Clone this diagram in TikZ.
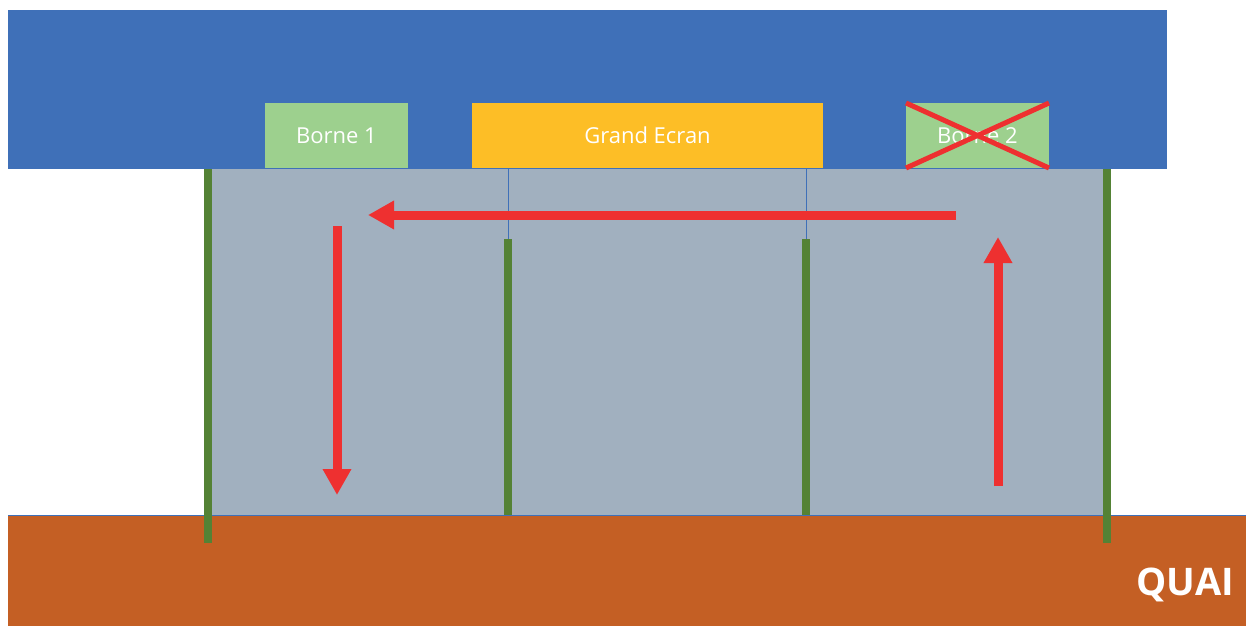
\documentclass[tikz,border=0pt]{standalone}
\usepackage{fontspec}
\setmainfont{Open Sans}
\usetikzlibrary{arrows.meta}
\definecolor{topblue}{HTML}{3F70B8}
\definecolor{hallgray}{HTML}{A1B0BF}
\definecolor{quaiorange}{HTML}{C45F24}
\definecolor{postgreen}{HTML}{548235}
\definecolor{bornegreen}{HTML}{9DD08E}
\definecolor{screenyellow}{HTML}{FDBE26}
\definecolor{arrowred}{HTML}{EE3030}
\begin{document}
\begin{tikzpicture}[x=1pt,y=-1pt,
  panel/.style={draw=none,inner sep=0pt,outer sep=0pt,text=white,font=\fontsize{22}{24}\selectfont},
  post/.style={postgreen,line width=8pt},
  redarrow/.style={arrowred,line width=9pt,-{Triangle[length=26pt,width=27pt]}},
  thinline/.style={topblue,line width=1pt}]
\useasboundingbox (0,0) rectangle (1247,626);
\fill[white] (0,0) rectangle (1247,626);
% areas
\fill[topblue] (8,10) rectangle (1167,169);
\fill[hallgray] (208,169) rectangle (1107,515);
\fill[quaiorange] (8,515) rectangle (1246,626);
\draw[topblue,line width=1pt] (8,515) -- (1246,515);
% panels
\node[panel,fill=bornegreen,minimum width=143pt,minimum height=65pt] (b1) at (336.5,135.5) {Borne 1};
\node[panel,fill=screenyellow,minimum width=351pt,minimum height=65pt] (ge) at (647.5,135.5) {Grand Ecran};
\node[panel,fill=bornegreen,minimum width=143pt,minimum height=65pt] (b2) at (977.5,135.5) {Borne 2};
\draw[arrowred,line width=5pt] (b2.north west) -- (b2.south east);
\draw[arrowred,line width=5pt] (b2.south west) -- (b2.north east);
% posts
\coordinate (p1t) at (208,169); \coordinate (p1b) at (208,543);
\coordinate (p2t) at (508,239); \coordinate (p2b) at (508,515);
\coordinate (p3t) at (806,239); \coordinate (p3b) at (806,515);
\coordinate (p4t) at (1107,169); \coordinate (p4b) at (1107,543);
\draw[post] (p1t) -- (p1b);
\draw[post] (p2t) -- (p2b);
\draw[post] (p3t) -- (p3b);
\draw[post] (p4t) -- (p4b);
\coordinate (g1) at (508,169); \coordinate (g2) at (806,169);
\draw[thinline] (g1) -- (p2t);
\draw[thinline] (g2) -- (p3t);
% arrows
\coordinate (h1) at (956,215); \coordinate (h2) at (368,215);
\coordinate (d1) at (337,226); \coordinate (d2) at (337,495);
\coordinate (u1) at (998,486); \coordinate (u2) at (998,237);
\draw[redarrow] (h1) -- (h2);
\draw[redarrow] (d1) -- (d2);
\draw[redarrow] (u1) -- (u2);
% label
\node[anchor=south east,inner sep=0pt,text=white,font=\fontsize{38}{40}\selectfont\bfseries] (quai) at (1234,602) {QUAI};
\end{tikzpicture}
\end{document}
